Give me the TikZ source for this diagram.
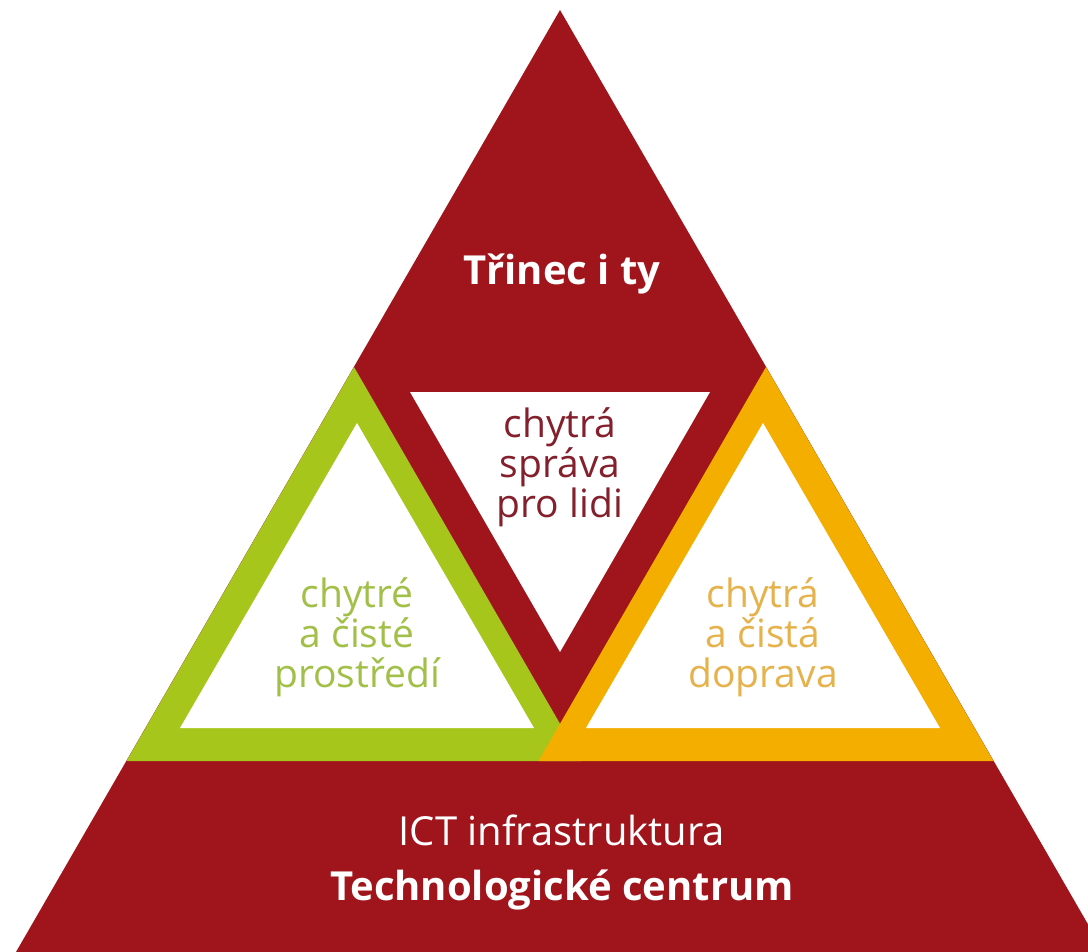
\documentclass[tikz,border=0pt]{standalone}
\usepackage{fontspec}
\setmainfont{Open Sans}
\definecolor{trred}{HTML}{A0141C}
\definecolor{trgreen}{HTML}{A6C61C}
\definecolor{trorange}{HTML}{F4AE00}
\definecolor{txred}{HTML}{84202C}
\definecolor{txgreen}{HTML}{A2BF48}
\definecolor{txorange}{HTML}{E6B24C}
\newcommand{\threeline}[3]{#1\\#2\\#3}

\begin{document}
\begin{tikzpicture}[x=1pt,y=-1pt,
    every node/.style={inner sep=0pt,align=center,anchor=base},
    pillar/.style={font=\fontsize{39}{40}\selectfont},
    hole/.style={fill=white}
  ]
  \useasboundingbox (0,0) rectangle (1088,952);
  \clip (0,0) rectangle (1088,952);
  % big triangle
  \fill[trred] (560,10) -- (16,952) -- (1104,952) -- cycle;
  % green and orange frames
  \fill[trgreen] (354,367) -- (126.5,761) -- (581.5,761) -- cycle;
  \fill[trorange] (766,367) -- (538.5,761) -- (993.5,761) -- cycle;
  \fill[hole] (357,423) -- (180,728) -- (534,728) -- cycle;
  \fill[hole] (763,423) -- (586,728) -- (940,728) -- cycle;
  % inverted triangle
  \fill[hole] (410,392) -- (710,392) -- (560,652) -- cycle;

  \node[text=white,font=\fontsize{40}{46}\selectfont\bfseries]
    (citizens) at (562,285) {Třinec i ty};
  \node[text=txred,pillar]
    (admin) at (560,517) {\threeline{chytrá}{správa}{pro lidi}};
  \node[text=txgreen,pillar]
    (environment) at (357,687) {\threeline{chytré}{a čisté}{prostředí}};
  \node[text=txorange,pillar]
    (transport) at (763,687) {\threeline{chytrá}{a čistá}{doprava}};
  \node[text=white,font=\fontsize{40}{55}\selectfont]
    (ict) at (562,900) {ICT infrastruktura\\\textbf{Technologické centrum}};
\end{tikzpicture}
\end{document}
